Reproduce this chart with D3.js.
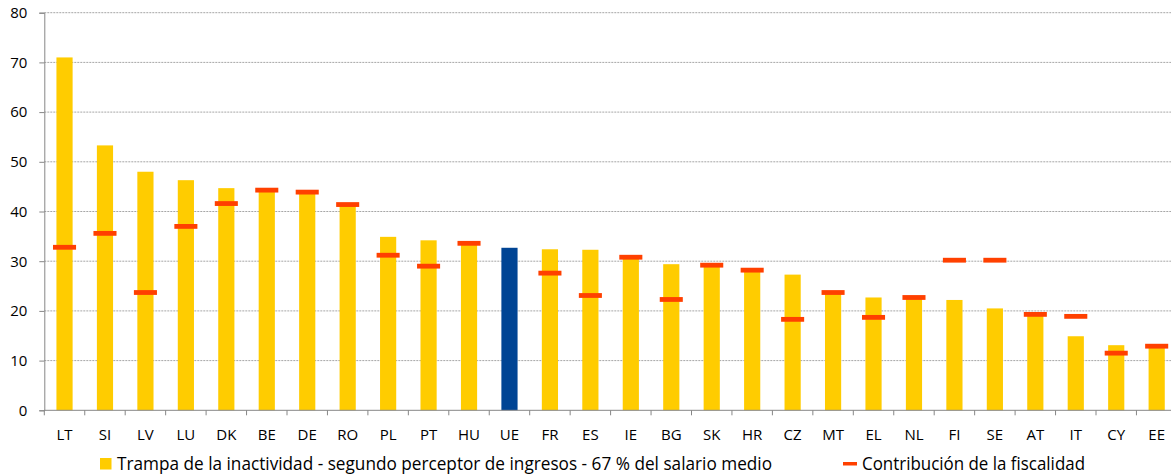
<!DOCTYPE html>
<html>
<head>
<meta charset="utf-8">
<script src="https://cdn.jsdelivr.net/npm/d3@7"></script>
<style>
  html, body { margin: 0; padding: 0; background: #fff; }
  svg { display: block; font-family: "Open Sans", "Noto Sans", sans-serif; }
</style>
</head>
<body>
<svg id="chart" width="1171" height="475"></svg>
<script>
// Country codes, in the order shown
const categories = ["LT","SI","LV","LU","DK","BE","DE","RO","PL","PT","HU","UE","FR","ES","IE","BG","SK","HR","CZ","MT","EL","NL","FI","SE","AT","IT","CY","EE"];
// Inactivity trap, second earner at 67 % of average wage (%)
const trapValues = [71.0,53.3,48.0,46.3,44.7,44.1,43.7,41.2,34.9,34.2,33.4,32.7,32.4,32.3,30.6,29.4,29.0,28.0,27.3,23.5,22.7,22.5,22.2,20.5,19.1,14.9,13.1,12.7];
// Contribution of taxation (%); none for the EU aggregate
const taxValues = [32.8,35.6,23.7,37.0,41.6,44.3,43.9,41.4,31.2,29.0,33.6,null,27.6,23.1,30.8,22.3,29.2,28.2,18.3,23.7,18.7,22.7,30.2,30.2,19.3,18.9,11.5,12.9];
const yTicks = [0,10,20,30,40,50,60,70,80];
const legendLabels = ["Trampa de la inactividad - segundo perceptor de ingresos - 67 % del salario medio", "Contribución de la fiscalidad"];

const svg = d3.select("#chart");
const plotLeft = 44.3, plotTop = 12.7, plotBottom = 410.3;
const bandW = 40.45;

const x = d3.scaleBand().domain(categories).range([plotLeft, plotLeft + bandW * categories.length]).padding(0);
const y = d3.scaleLinear().domain([0, 80]).range([plotBottom, plotTop]);

const gridColor = "#a6a6a6", axisColor = "#868686";

// Horizontal dotted gridlines
svg.append("g").selectAll("line").data(yTicks.filter(d => d > 0)).join("line")
  .attr("x1", plotLeft).attr("x2", 1171)
  .attr("y1", d => y(d)).attr("y2", d => y(d))
  .attr("stroke", gridColor).attr("stroke-width", 1)
  .attr("stroke-dasharray", "2,1");

// Y axis
const yAxis = svg.append("g").attr("transform", `translate(${plotLeft},0)`)
  .call(d3.axisLeft(y).tickValues(yTicks).tickSize(5).tickPadding(12));
yAxis.select(".domain").attr("stroke", axisColor);
yAxis.selectAll(".tick line").attr("stroke", axisColor);
yAxis.selectAll(".tick text").attr("font-size", 15).attr("fill", "#000")
  .attr("font-family", "'Open Sans', sans-serif");

// Bars
const barW = x.bandwidth() * 0.4;
svg.append("g").selectAll("rect").data(categories).join("rect")
  .attr("x", (d) => x(d) + (x.bandwidth() - barW) / 2)
  .attr("width", barW)
  .attr("y", (d, i) => y(trapValues[i]))
  .attr("height", (d, i) => y(0) - y(trapValues[i]))
  .attr("fill", d => d === "UE" ? "#004494" : "#ffcc00");

// Tax contribution markers
const markW = x.bandwidth() * 0.57;
svg.append("g").selectAll("rect").data(categories.map((c, i) => ({c, v: taxValues[i]})).filter(d => d.v !== null)).join("rect")
  .attr("x", d => x(d.c) + (x.bandwidth() - markW) / 2)
  .attr("width", markW)
  .attr("y", d => y(d.v) - 2.4)
  .attr("height", 4.8)
  .attr("fill", "#ff4000");

// X axis
const xAxisG = svg.append("g").attr("transform", `translate(0,${plotBottom})`);
xAxisG.append("line").attr("x1", plotLeft).attr("x2", 1171).attr("y1", 0).attr("y2", 0)
  .attr("stroke", axisColor).attr("stroke-width", 1);
const boundaries = categories.map(c => x(c)).concat([x(categories[categories.length - 1]) + x.bandwidth()]);
xAxisG.selectAll("line.tk").data(boundaries).join("line").attr("class", "tk")
  .attr("x1", d => d).attr("x2", d => d).attr("y1", 0).attr("y2", 5)
  .attr("stroke", axisColor);
xAxisG.selectAll("text").data(categories).join("text")
  .attr("x", d => x(d) + x.bandwidth() / 2)
  .attr("y", 29.3)
  .attr("text-anchor", "middle")
  .attr("font-size", 15)
  .attr("fill", "#000")
  .text(d => d);

// Legend
const lg = svg.append("g");
lg.append("rect").attr("x", 100).attr("y", 458).attr("width", 11.5).attr("height", 11.5).attr("fill", "#ffcc00");
lg.append("text").attr("x", 117).attr("y", 470).attr("font-size", 17.5).attr("fill", "#000")
  .attr("textLength", 655).attr("lengthAdjust", "spacingAndGlyphs")
  .text(legendLabels[0]);
lg.append("rect").attr("x", 843).attr("y", 462).attr("width", 14).attr("height", 3.5).attr("fill", "#ff4000");
lg.append("text").attr("x", 862).attr("y", 470).attr("font-size", 17.5).attr("fill", "#000")
  .attr("textLength", 223).attr("lengthAdjust", "spacingAndGlyphs")
  .text(legendLabels[1]);
</script>
</body>
</html>
